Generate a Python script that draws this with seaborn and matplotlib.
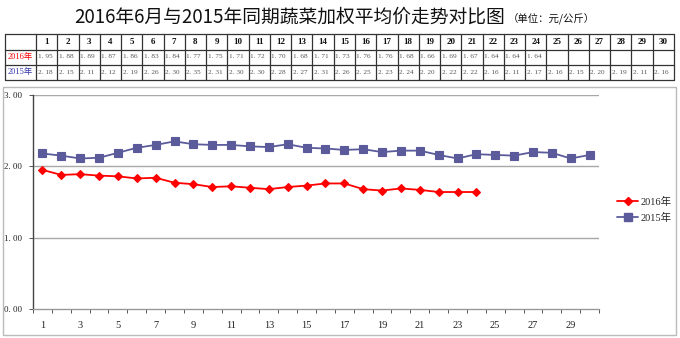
import matplotlib
matplotlib.use("Agg")
import matplotlib.pyplot as plt
import seaborn as sns
import pandas as pd
import numpy as np
from matplotlib.lines import Line2D
from matplotlib.patches import Rectangle

days = list(range(1, 31))
v2016 = [1.95, 1.88, 1.89, 1.87, 1.86, 1.83, 1.84, 1.77, 1.75, 1.71, 1.72, 1.70,
         1.68, 1.71, 1.73, 1.76, 1.76, 1.68, 1.66, 1.69, 1.67, 1.64, 1.64, 1.64]
v2015 = [2.18, 2.15, 2.11, 2.12, 2.19, 2.26, 2.30, 2.35, 2.31, 2.30, 2.30, 2.28,
         2.27, 2.31, 2.26, 2.25, 2.23, 2.24, 2.20, 2.22, 2.22, 2.16, 2.11, 2.17,
         2.16, 2.15, 2.20, 2.19, 2.11, 2.16]
series_names = ["2016年", "2015年"]
yticks = [0, 1, 2, 3]
xtick_days = list(range(1, 30, 2))
title = "2016年6月与2015年同期蔬菜加权平均价走势对比图"
unit = "（单位：元/公斤）"

sns.set_theme(style="white")
plt.rcParams['font.family'] = ['Noto Sans CJK SC', 'DejaVu Sans']

W, H = 680, 338
fig = plt.figure(figsize=(W / 100, H / 100), dpi=100)

def fx(px):
    return px / W

def fy(py):
    return 1 - py / H

# title
fig.text(fx(290), fy(17), title, ha="center", va="center", fontsize=13.5,
         family=['Noto Sans CJK SC', 'DejaVu Sans'], color="#111111")
fig.text(fx(508), fy(19), unit, ha="left", va="center", fontsize=7.5,
         family=['Noto Sans CJK SC', 'DejaVu Sans'], color="#111111")

# table
t_left, t_first, t_right = 5, 36, 674
t_rows = [34, 49.5, 64.5, 79.5]
colw = (t_right - t_first) / 30
def hline(y, x0, x1, **kw):
    fig.add_artist(Line2D([fx(x0), fx(x1)], [fy(y), fy(y)], transform=fig.transFigure, **kw))
def vline(x, y0, y1, **kw):
    fig.add_artist(Line2D([fx(x), fx(x)], [fy(y0), fy(y1)], transform=fig.transFigure, **kw))

for y in t_rows:
    hline(y, t_left, t_right, color="#333333", lw=0.9)
vline(t_left, t_rows[0], t_rows[-1], color="#333333", lw=0.9)
for i in range(31):
    vline(t_first + i * colw, t_rows[0], t_rows[-1], color="#333333", lw=0.9)

serif_val = ['Liberation Serif', 'Noto Sans CJK SC']
for i, d in enumerate(days):
    cx = t_first + (i + 0.5) * colw
    fig.text(fx(cx), fy((t_rows[0] + t_rows[1]) / 2), str(d), ha="center", va="center",
             fontsize=6.5, fontweight="bold", family=['Liberation Serif'], color="#111111")
    if i < len(v2016):
        fig.text(fx(t_first + i * colw + 1.5), fy((t_rows[1] + t_rows[2]) / 2), f"{v2016[i]:.2f}".replace(".", ". "),
                 ha="left", va="center", fontsize=5.2, family=['Liberation Serif'], color="#555555")
    fig.text(fx(t_first + i * colw + 1.5), fy((t_rows[2] + t_rows[3]) / 2), f"{v2015[i]:.2f}".replace(".", ". "),
             ha="left", va="center", fontsize=5.2, family=['Liberation Serif'], color="#555555")
fig.text(fx((t_left + t_first) / 2), fy((t_rows[1] + t_rows[2]) / 2), series_names[0], ha="center",
         va="center", fontsize=6, family=serif_val, color="#FF0000")
fig.text(fx((t_left + t_first) / 2), fy((t_rows[2] + t_rows[3]) / 2), series_names[1], ha="center",
         va="center", fontsize=6, family=serif_val, color="#3333AA")

# chart frame
fig.add_artist(Rectangle((fx(3), fy(335)), fx(673), 248 / H, transform=fig.transFigure,
                         fill=False, edgecolor="#BBBBBB", lw=1.0))

# plot
ax_l, ax_r, ax_t, ax_b = 33, 599, 95, 309
ax = fig.add_axes([fx(ax_l), fy(ax_b), fx(ax_r - ax_l), (ax_b - ax_t) / H])

df = pd.concat([
    pd.DataFrame({"day": days[:len(v2016)], "value": v2016, "series": series_names[0]}),
    pd.DataFrame({"day": days, "value": v2015, "series": series_names[1]}),
])
palette = {series_names[0]: "#FF0000", series_names[1]: "#5B5B9B"}
markers = {series_names[0]: "D", series_names[1]: "s"}
sns.lineplot(data=df, x="day", y="value", hue="series", style="series",
             markers=markers, dashes=False, palette=palette, ax=ax,
             markersize=5, linewidth=1.3, markeredgewidth=0.8, legend=False)
for line in ax.lines:
    c = line.get_color()
    line.set_markeredgecolor(c)
    line.set_markerfacecolor(c)
ax.lines[0].set_markersize(4.0)
ax.lines[1].set_markersize(5.5)

ax.set_xlim(0.5, 30.5)
ax.set_ylim(0, 3)
for y in yticks[1:]:
    ax.axhline(y, color="#A8A8A8", lw=1.0, zorder=0)
ax.set_yticks(yticks)
ax.set_yticklabels([f"{y:.2f}".replace(".", ". ") for y in yticks], family=['Liberation Serif'],
                   fontsize=6.5, color="#222222")
ax.set_xticks(xtick_days)
ax.set_xticklabels([str(d) for d in xtick_days], family=['Liberation Serif'], fontsize=7.5, color="#222222")
ax.set_xticks(np.arange(0.5, 31, 1), minor=True)
ax.tick_params(axis="x", which="major", length=0, pad=9)
ax.tick_params(axis="x", which="minor", length=3, width=0.7, color="#555555", direction="out", bottom=True)
ax.tick_params(axis="y", which="major", length=3, width=0.7, color="#555555", direction="out", left=True, pad=5)
ax.set_xlabel("")
ax.set_ylabel("")
for s in ["top", "right"]:
    ax.spines[s].set_visible(False)
ax.spines["left"].set_color("#444444")
ax.spines["left"].set_linewidth(1.0)
ax.spines["bottom"].set_color("#999999")
ax.spines["bottom"].set_linewidth(1.0)

# legend
handles = [Line2D([], [], color=palette[n], marker=markers[n], markersize=4.0 if n == series_names[0] else 5.5,
                  markerfacecolor=palette[n], markeredgecolor=palette[n], lw=1.3) for n in series_names]
leg = fig.legend(handles, series_names, loc="center left", bbox_to_anchor=(fx(608), fy(210)),
                 frameon=False, handlelength=2.0, handletextpad=0.2, labelspacing=0.55,
                 prop={"family": ['Liberation Serif', 'Noto Sans CJK SC'], "size": 7.5})

fig.savefig("out.png", dpi=100)
